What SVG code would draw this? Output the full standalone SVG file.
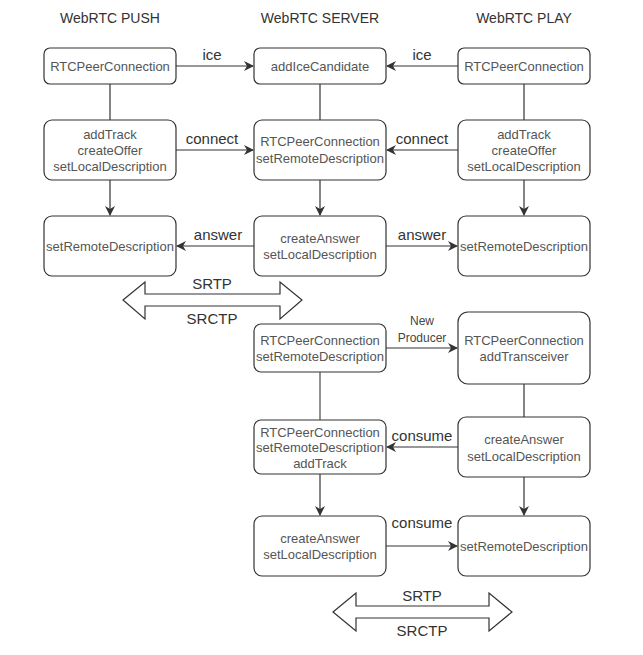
<svg xmlns="http://www.w3.org/2000/svg" width="643" height="655" viewBox="0 0 643 655">
<style>
.box{fill:#fff;stroke:#333;stroke-width:1.2}
.nt{font-family:"Liberation Sans",Arial,sans-serif;font-size:13px;fill:#555;text-anchor:middle;dominant-baseline:central}
.title{font-family:"Liberation Sans",Arial,sans-serif;font-size:14px;fill:#333;text-anchor:middle;dominant-baseline:central}
.lbl{font-family:"Liberation Sans",Arial,sans-serif;font-size:15px;fill:#333;text-anchor:middle;dominant-baseline:central}
.sm{font-family:"Liberation Sans",Arial,sans-serif;font-size:12px;fill:#444;text-anchor:middle;dominant-baseline:central}
.ln{stroke:#333;stroke-width:1.2;fill:none}
.ar{stroke:#333;stroke-width:1.2;fill:none;marker-end:url(#ah)}
.big{fill:#fff;stroke:#333;stroke-width:1.2}
</style>
<defs>
<marker id="ah" viewBox="0 0 10 10" refX="9" refY="5" markerWidth="10" markerHeight="10" markerUnits="userSpaceOnUse" orient="auto">
<path d="M0,0 L10,5 L0,10 L3,5 Z" fill="#333"/>
</marker>
</defs>
<rect width="643" height="655" fill="#fff"/>
<text class="title" x="110" y="18">WebRTC PUSH</text>
<text class="title" x="320" y="18">WebRTC SERVER</text>
<text class="title" x="524" y="18">WebRTC PLAY</text>

<g id="connectors">
<line class="ln" x1="110" y1="84" x2="110" y2="120"/>
<line class="ln" x1="320" y1="84" x2="320" y2="120"/>
<line class="ln" x1="524" y1="84" x2="524" y2="120"/>
<line class="ar" x1="110" y1="180" x2="110" y2="215"/>
<line class="ar" x1="320" y1="180" x2="320" y2="215"/>
<line class="ar" x1="524" y1="180" x2="524" y2="215"/>
<line class="ar" x1="176" y1="66" x2="253" y2="66"/>
<line class="ar" x1="458" y1="66" x2="387" y2="66"/>
<line class="ar" x1="176" y1="150" x2="253" y2="150"/>
<line class="ar" x1="458" y1="150" x2="387" y2="150"/>
<line class="ar" x1="254" y1="246" x2="177" y2="246"/>
<line class="ar" x1="386" y1="246" x2="457" y2="246"/>
<line class="ar" x1="386" y1="348" x2="457" y2="348"/>
<line x1="320" y1="372" x2="320" y2="420" stroke="#777" stroke-width="1.6"/>
<line class="ln" x1="524" y1="384" x2="524" y2="417"/>
<line class="ar" x1="458" y1="447" x2="387" y2="447"/>
<line class="ar" x1="320" y1="474" x2="320" y2="515"/>
<line class="ar" x1="524" y1="477" x2="524" y2="515"/>
<line class="ar" x1="386" y1="546" x2="457" y2="546"/>
<text class="lbl" x="212" y="54">ice</text>
<text class="lbl" x="422" y="54">ice</text>
<text class="lbl" x="212" y="138">connect</text>
<text class="lbl" x="422" y="138">connect</text>
<text class="lbl" x="218" y="234">answer</text>
<text class="lbl" x="422" y="234">answer</text>
<text class="sm" x="422" y="321">New</text>
<text class="sm" x="422" y="338">Producer</text>
<text class="lbl" x="422" y="435">consume</text>
<text class="lbl" x="422" y="522">consume</text>
</g>

<g id="push1"><rect class="box" x="44" y="48" width="132" height="36" rx="6"/><text class="nt" x="110" y="66">RTCPeerConnection</text></g>
<g id="server1"><rect class="box" x="254" y="48" width="132" height="36" rx="6"/><text class="nt" x="320" y="66">addIceCandidate</text></g>
<g id="play1"><rect class="box" x="458" y="48" width="132" height="36" rx="6"/><text class="nt" x="524" y="66">RTCPeerConnection</text></g>

<g id="push2"><rect class="box" x="44" y="120" width="132" height="60" rx="8"/><text class="nt" x="110" y="134">addTrack</text><text class="nt" x="110" y="150">createOffer</text><text class="nt" x="110" y="166">setLocalDescription</text></g>
<g id="server2"><rect class="box" x="254" y="120" width="132" height="60" rx="8"/><text class="nt" x="320" y="141">RTCPeerConnection</text><text class="nt" x="320" y="158">setRemoteDescription</text></g>
<g id="play2"><rect class="box" x="458" y="120" width="132" height="60" rx="8"/><text class="nt" x="524" y="134">addTrack</text><text class="nt" x="524" y="150">createOffer</text><text class="nt" x="524" y="166">setLocalDescription</text></g>

<g id="push3"><rect class="box" x="44" y="216" width="132" height="60" rx="8"/><text class="nt" x="110" y="246">setRemoteDescription</text></g>
<g id="server3"><rect class="box" x="254" y="216" width="132" height="60" rx="8"/><text class="nt" x="320" y="238">createAnswer</text><text class="nt" x="320" y="254">setLocalDescription</text></g>
<g id="play3"><rect class="box" x="458" y="216" width="132" height="60" rx="8"/><text class="nt" x="524" y="246">setRemoteDescription</text></g>

<g id="srtp1">
<path class="big" d="M123,300 L145,282 L145,294 L280,294 L280,282 L302,300 L280,319 L280,306 L145,306 L145,319 Z"/>
<text class="lbl" x="212" y="283">SRTP</text>
<text class="lbl" x="212" y="318">SRCTP</text>
</g>

<g id="server4"><rect class="box" x="254" y="324" width="132" height="48" rx="7"/><text class="nt" x="320" y="340">RTCPeerConnection</text><text class="nt" x="320" y="356">setRemoteDescription</text></g>
<g id="play4"><rect class="box" x="458" y="312" width="132" height="72" rx="10"/><text class="nt" x="524" y="340">RTCPeerConnection</text><text class="nt" x="524" y="356">addTransceiver</text></g>

<g id="server5"><rect class="box" x="254" y="420" width="132" height="54" rx="7"/><text class="nt" x="320" y="432">RTCPeerConnection</text><text class="nt" x="320" y="447">setRemoteDescription</text><text class="nt" x="320" y="463">addTrack</text></g>
<g id="play5"><rect class="box" x="458" y="417" width="132" height="60" rx="8"/><text class="nt" x="524" y="439">createAnswer</text><text class="nt" x="524" y="456">setLocalDescription</text></g>

<g id="server6"><rect class="box" x="254" y="516" width="132" height="60" rx="8"/><text class="nt" x="320" y="538">createAnswer</text><text class="nt" x="320" y="554">setLocalDescription</text></g>
<g id="play6"><rect class="box" x="458" y="516" width="132" height="60" rx="8"/><text class="nt" x="524" y="546">setRemoteDescription</text></g>

<g id="srtp2">
<path class="big" d="M333,612 L356,593 L356,606 L489,606 L489,593 L512,612 L489,631 L489,618 L356,618 L356,631 Z"/>
<text class="lbl" x="422" y="595">SRTP</text>
<text class="lbl" x="422" y="630">SRCTP</text>
</g>
</svg>
